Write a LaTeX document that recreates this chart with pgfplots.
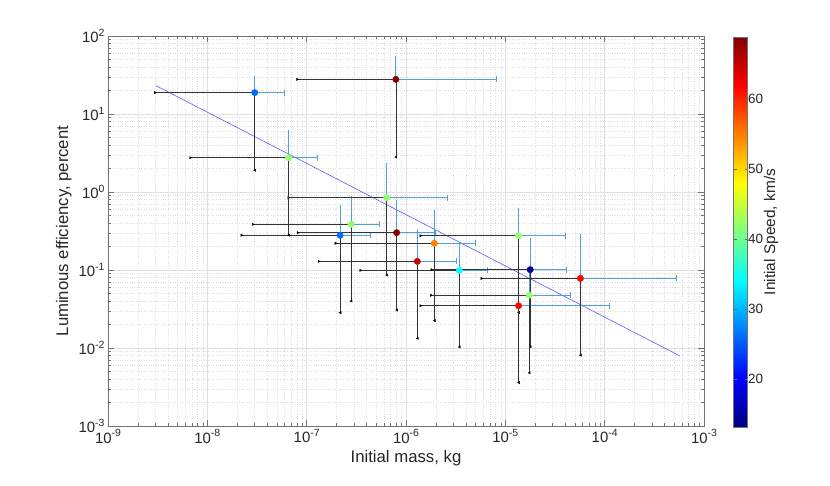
\documentclass[border=0pt]{standalone}
\usepackage{fontspec}
\setmainfont{Liberation Sans}
\usepackage{pgfplots}
\usepackage{pgfplotstable}
\pgfplotsset{compat=1.18}
\definecolor{errblue}{RGB}{80,160,220}
\definecolor{fitblue}{RGB}{90,90,255}
\newcommand\tkfont{\fontsize{15}{15}\selectfont}
\newcommand\lbfont{\fontsize{16.8}{17}\selectfont}
\newcommand\cbfont{\fontsize{13.5}{14}\selectfont}
\newcommand\cblfont{\fontsize{15.5}{16}\selectfont}
\newcommand\ten[1]{10\raisebox{0.42em}{\fontsize{10.5}{10.5}\selectfont #1}}
\pgfplotstableread{
x y dxm dxp dym dyp c
3.0e-8 18.8 2.7e-8 3.0e-8 16.9 9.0 26
7.9e-7 27.8 7.09e-7 7.41e-6 25.0 22.2 68.5
6.6e-8 2.75 5.92e-8 6.2e-8 2.47 2.9 42
6.4e-7 0.845 5.74e-7 1.96e-6 0.759 1.325 42
2.8e-7 0.385 2.51e-7 2.6e-7 0.345 0.425 42
2.17e-7 0.279 1.947e-7 2.23e-7 0.2506 0.341 26
8.05e-7 0.301 7.23e-7 1.195e-6 0.2703 0.419 68.5
1.93e-6 0.22 1.733e-6 3.07e-6 0.1976 0.32 55
1.30e-6 0.129 1.166e-6 1.9e-6 0.1157 0.181 65
3.44e-6 0.099 3.09e-6 3.21e-6 0.0887 0.111 34
1.36e-5 0.275 1.219e-5 2.64e-5 0.2466 0.3 42
1.36e-5 0.0348 1.219e-5 9.74e-5 0.0312 0.0652 62
1.78e-5 0.101 1.598e-5 2.32e-5 0.0906 0.137 14
1.74e-5 0.0474 1.56e-5 2.76e-5 0.0426 0.0526 42
5.7e-5 0.078 5.12e-5 4.73e-4 0.0699 0.189 62
}\data
\begin{document}
\begin{tikzpicture}
\useasboundingbox (-108bp,-60bp) rectangle (722bp,426bp);
\begin{axis}[
  at={(0,0)}, anchor=south west,
  scale only axis, width=596bp, height=390bp,
  xmode=log, ymode=log,
  xmin=1e-9, xmax=1e-3, ymin=1e-3, ymax=1e2,
  xtick={1e-9,1e-8,1e-7,1e-6,1e-5,1e-4,1e-3},
  xticklabels={\ten{-9},\ten{-8},\ten{-7},\ten{-6},\ten{-5},\ten{-4},\ten{-3}},
  ytick={1e-3,1e-2,1e-1,1e0,1e1,1e2},
  yticklabels={\ten{-3},\ten{-2},\ten{-1},\ten{0},\ten{1},\ten{2}},
  ticklabel style={font=\tkfont, text=black!85},
  xlabel={Initial mass, kg}, ylabel={Luminous efficiency, percent},
  label style={font=\lbfont, text=black!85},
  grid=both,
  major grid style={black!12, line width=0.5bp},
  minor grid style={black!13, dotted, line width=0.5bp},
  axis line style={black!55, line width=0.6bp},
  tick style={black!55, line width=0.5bp},
  major tick length=6bp, minor tick length=3.5bp,
  colormap/jet,
  point meta min=13.1, point meta max=68.9,
  colorbar right,
  colorbar style={
    scale only axis,
    at={(parent axis.north east)}, anchor=north west, xshift=21bp, yshift=-1bp,
    width=14bp, height=390bp,
    ytick={20,30,40,50,60},
    yticklabel style={font=\cbfont, text=black!85},
    yticklabel shift=-3bp,
    ylabel={Initial Speed, km/s},
    ylabel style={font=\cblfont, text=black!85},
    ylabel shift=-6bp,
    axis line style={black!55},
    major tick length=3bp,
    tick style={black!60},
    /pgf/number format/assume math mode=true,
  },
]
\addplot[color=fitblue, line width=0.6bp, forget plot] coordinates {(3.04e-9,23.1) (5.74e-4,0.00789)};
% upper errors (blue)
\addplot[only marks, mark=none, forget plot,
  error bars/.cd, x dir=plus, x explicit, error mark=|,
  error mark options={errblue, mark size=3bp, line width=0.8bp},
  error bar style={errblue, line width=0.8bp}]
  table[x=x, y=y, x error plus=dxp] {\data};
\addplot[only marks, mark=none, forget plot,
  error bars/.cd, y dir=plus, y explicit, error mark=-,
  error mark options={errblue, mark size=3bp, line width=0.8bp},
  error bar style={errblue, line width=0.8bp}]
  table[x=x, y=y, y error plus=dyp] {\data};
% lower errors (black arrows)
\addplot[only marks, mark=none, forget plot,
  error bars/.cd, x dir=minus, x explicit, error mark=triangle*,
  error mark options={black, rotate=90, mark size=1.3bp},
  error bar style={black!80, line width=0.6bp}]
  table[x=x, y=y, x error minus=dxm] {\data};
\addplot[only marks, mark=none, forget plot,
  error bars/.cd, y dir=minus, y explicit, error mark=triangle*,
  error mark options={black, rotate=180, mark size=1.3bp},
  error bar style={black!80, line width=0.6bp}]
  table[x=x, y=y, y error minus=dym] {\data};
% points
\addplot[scatter, only marks, mark=*, mark size=3.2bp,
  scatter/use mapped color={draw=mapped color, fill=mapped color},
  point meta=explicit]
  table[x=x, y=y, meta=c] {\data};
\end{axis}
\end{tikzpicture}
\end{document}
